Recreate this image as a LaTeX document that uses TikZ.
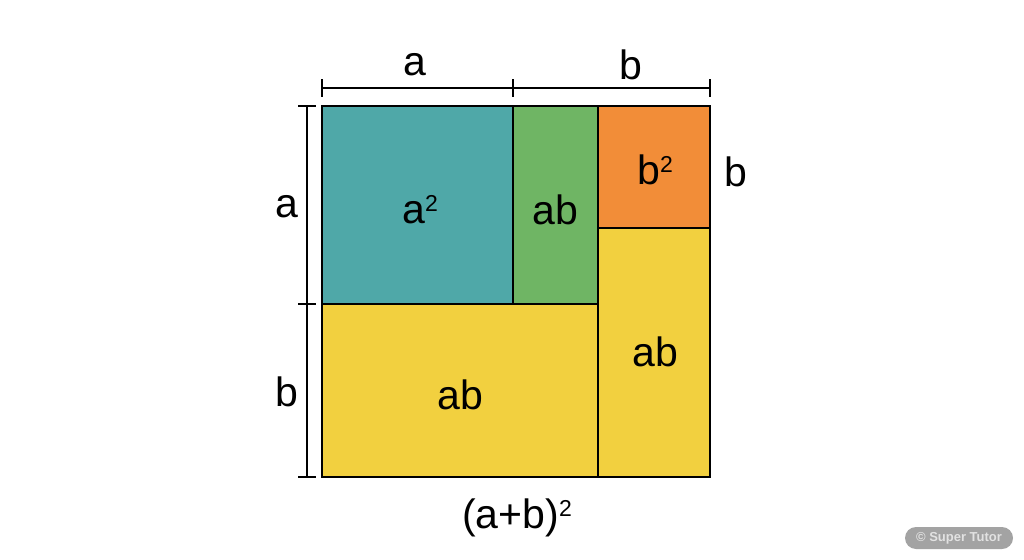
\documentclass[tikz,border=0pt]{standalone}
\usepackage{fontspec}
\setmainfont{Liberation Sans}
\usepackage{tikz}
\usetikzlibrary{positioning,shapes}
\definecolor{tealsq}{HTML}{4FA8A8}
\definecolor{greensq}{HTML}{6FB564}
\definecolor{orangesq}{HTML}{F28D38}
\definecolor{yellowsq}{HTML}{F2D03F}
\definecolor{markgray}{HTML}{A3A3A3}
\definecolor{marktext}{HTML}{E2E2E2}
\tikzstyle{cell} = [draw, line width=2.6pt]
\tikzstyle{dimline} = [draw, line width=1.8pt]
\tikzstyle{lbl} = [font=\fontsize{41}{48}\selectfont, inner sep=0pt]
\newcommand{\sqr}{\raisebox{0.3em}{\fontsize{23}{23}\selectfont 2}}

\begin{document}
\begin{tikzpicture}[x=1pt, y=-1pt]
            \useasboundingbox (0,0) rectangle (1024,559);
                % the four pieces
                \path [cell, fill=tealsq] (322,106) rectangle (513,304);
                \path [cell, fill=greensq] (513,106) rectangle (598,304);
                \path [cell, fill=orangesq] (598,106) rectangle (710,228);
                \path [cell, fill=yellowsq] (598,228) rectangle (710,477);
                \path [cell, fill=yellowsq] (322,304) rectangle (598,477);
                \draw (420,210) node [lbl] (asq) {a\sqr};
                \draw (555,210) node [lbl] (abg) {ab};
                \draw (655,170) node [lbl] (bsq) {b\sqr};
                \draw (655,352) node [lbl] (abr) {ab};
                \draw (460,395) node [lbl] (abb) {ab};
                % top dimension
                \coordinate (t1) at (322,88);
                \coordinate (t2) at (513,88);
                \coordinate (t3) at (710,88);
                \path [dimline] (t1) -- (t3);
                \foreach \t in {t1,t2,t3}
                    \path [dimline] ([yshift=-9pt]\t) -- ([yshift=9pt]\t);
                \draw (415,65) node [lbl] (ta) {a};
                \draw (631,65) node [lbl] (tb) {b};
                % left dimension
                \coordinate (l1) at (307,106);
                \coordinate (l2) at (307,304);
                \coordinate (l3) at (307,477);
                \path [dimline] (l1) -- (l3);
                \foreach \l in {l1,l2,l3}
                    \path [dimline] ([xshift=-9pt]\l) -- ([xshift=9pt]\l);
                \draw (287,207) node [lbl] (la) {a};
                \draw (287,392) node [lbl] (lb) {b};
                \draw (736,172) node [lbl] (rb) {b};
                \draw (517,518) node [lbl] (sum) {(a+b)\sqr};
                % watermark
                \node [rounded rectangle, fill=markgray, minimum width=112pt, minimum height=22pt, inner sep=2pt,
                    text=marktext, font=\bfseries\fontsize{13}{15}\selectfont] (mark) at (959,538) {© Super Tutor};
            \end{tikzpicture}
\end{document}
